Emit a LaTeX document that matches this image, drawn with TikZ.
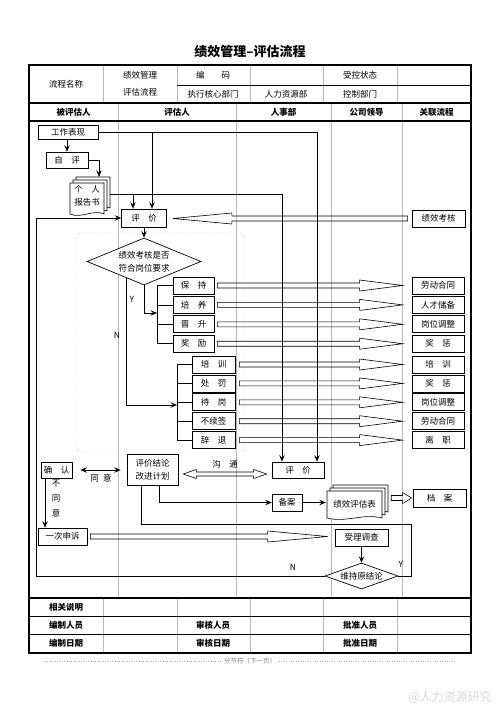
\documentclass[tikz,border=0pt]{standalone}
\usepackage{fontspec}
\setmainfont{Noto Sans CJK SC}
\usetikzlibrary{arrows.meta,shapes.geometric,calc}

\begin{document}
\begin{tikzpicture}[x=1pt,y=-1pt,>={Stealth[length=6.5pt,width=5.5pt,inset=2.5pt]},
		txt/.style={font=\fontsize{8.5}{10}\selectfont},
		head/.style={font=\fontsize{8.5}{10}\selectfont\bfseries},
		box/.style={txt,draw,fill=white,line width=0.7pt,inner sep=0pt,minimum height=17pt},
		dec/.style={draw,fill=white,line width=0.7pt,diamond,inner sep=0pt},
		link/.style={line width=0.7pt},
		grid/.style={gray!55,line width=0.6pt},
		rule/.style={line width=0.6pt},
		frame/.style={line width=1.1pt},
		harrow/.style={line width=0.6pt,to path={let \p1=(\tikztostart),\p2=(\tikztotarget),\n1={sign(\x2-\x1)} in
				({\x1},{\y1+2.5pt}) -- ({\x2-(\n1)*#1},{\y1+2.5pt}) -- ({\x2-(\n1)*#1},{\y1+5.5pt}) -- ({\x2},{\y1})
				-- ({\x2-(\n1)*#1},{\y1-5.5pt}) -- ({\x2-(\n1)*#1},{\y1-2.5pt}) -- ({\x1},{\y1-2.5pt}) -- cycle}},
		harrow/.default=43pt,
		dharrow/.style={line width=0.6pt,to path={let \p1=(\tikztostart),\p2=(\tikztotarget) in
				({\x1},{\y1}) -- ({\x1+13pt},{\y1+4.5pt}) -- ({\x1+13pt},{\y1+2pt}) -- ({\x2-13pt},{\y1+2pt})
				-- ({\x2-13pt},{\y1+4.5pt}) -- ({\x2},{\y1}) -- ({\x2-13pt},{\y1-4.5pt}) -- ({\x2-13pt},{\y1-2pt})
				-- ({\x1+13pt},{\y1-2pt}) -- ({\x1+13pt},{\y1-4.5pt}) -- cycle}},
		pics/docstack/.style n args={2}{code={
				\foreach \o in {6,3,0}
				\draw[fill=white,line width=0.6pt] (\o,-\o) -- ++(#1,0) -- ++(0,#2)
				.. controls +(-#1/3,-5) and +(#1/3,5) .. (\o,#2-\o) -- cycle;
		}}]
		\useasboundingbox (0,0) rectangle (500,707);
		
		% title and frame
		\node[font=\fontsize{13}{15}\selectfont\bfseries] (title) at (250,52) {绩效管理--评估流程};
		\foreach \x in {103,177,250,323,397} \draw[grid] (\x,65) -- (\x,103);
		\foreach \x in {118,236,331,402} \draw[grid] (\x,103) -- (\x,598);
		\foreach \x in {103,177,250,323,397} \draw[grid] (\x,598) -- (\x,653);
		\draw[rule] (177,85) -- (471,85);
		\draw[rule] (29,616) -- (471,616);
		\draw[rule] (29,634) -- (471,634);
		\draw[frame] (29,103) -- (471,103);
		\draw[frame] (29,121) -- (471,121);
		\draw[frame] (29,598) -- (471,598);
		\draw[frame] (29,65) rectangle (471,653);
		
		% header
		\node[txt] (hname) at (66,84) {流程名称};
		\node[txt,align=center,font=\fontsize{8.5}{17}\selectfont] (hproc) at (140,84) {绩效管理\\评估流程};
		\node[txt] (hcode) at (213,75) {编\qquad 码};
		\node[txt] (hstat) at (360,75) {受控状态};
		\node[txt] (hexec) at (213,94) {执行核心部门};
		\node[txt] (hdept) at (286,94) {人力资源部};
		\node[txt] (hctrl) at (360,94) {控制部门};
		\foreach \x/\t [count=\i] in {73.5/被评估人,177/评估人,283.5/人事部,366.5/公司领导,436.5/关联流程}
		\node[head] (lane\i) at (\x,112) {\t};
		
		% footer
		\node[head] (note) at (66,607) {相关说明};
		\foreach \t/\x/\y [count=\i] in {编制人员/66/625,审核人员/213/625,批准人员/360/625,编制日期/66/643.5,审核日期/213/643.5,批准日期/360/643.5}
		\node[head] (ft\i) at (\x,\y) {\t};
		\draw[gray!60,dotted] (45,661) -- (221,661);
		\draw[gray!60,dotted] (279,661) -- (455,661);
		\node[font=\fontsize{6.5}{8}\selectfont,text=gray] (brk) at (250,661) {分节符（下一页）};
		\node[font=\fontsize{12}{14}\selectfont,text=gray!30] (mark) at (450,697) {@人力资源研究};
		
		% check area
		\draw[gray!70,densely dotted,rounded corners=5pt] (76,233) rectangle (245,452);
		
		% nodes
		\node[box,minimum width=60pt,minimum height=14pt] (gz) at (68,132) {工作表现};
		\node[box,minimum width=42pt,minimum height=16pt] (zp) at (67,160) {自\quad 评};
		\pic at (70,183) {docstack={34}{31}};
		\node[txt,align=center,font=\fontsize{8.5}{13}\selectfont,minimum width=34pt,minimum height=26pt,inner sep=0pt] (rpt) at (87,196) {个\quad 人\\报告书};
		\node[box,minimum width=45pt,minimum height=18pt] (pj) at (144,218) {评\quad 价};
		\node[box,minimum width=53pt] (jk) at (438.5,218.5) {绩效考核};
		\node[dec,aspect=2.43,minimum width=114pt,minimum height=47pt,align=center,font=\fontsize{8.5}{13}\selectfont] (ck) at (144,261.5) {绩效考核是否\\符合岗位要求};
		
		\foreach \t [count=\i] in {保\quad 持,培\quad 养,晋\quad 升,奖\quad 励}
		\node[box,minimum width=41pt] (b\i) at (193.5,{266.1+19.4*\i}) {\t};
		\foreach \t [count=\i] in {培\quad 训,处\quad 罚,待\quad 岗,不续签,辞\quad 退}
		\node[box,minimum width=43pt] (c\i) at (213.5,{345.6+18.9*\i}) {\t};
		\foreach \t [count=\i] in {劳动合同,人才储备,岗位调整,奖\quad 惩}
		\node[box,minimum width=52pt] (r\i) at (438,{266.1+19.4*\i}) {\t};
		\foreach \t [count=\i from 5] in {培\quad 训,奖\quad 惩,岗位调整,劳动合同,离\quad 职}
		\node[box,minimum width=52pt] (r\i) at (438,{345.6+18.9*(\i-4)}) {\t};
		
		\node[box,minimum width=31pt,minimum height=16pt] (qr) at (56.5,470) {确\quad 认};
		\node[box,minimum width=51pt,minimum height=31pt,align=center,font=\fontsize{8.5}{13}\selectfont] (jl) at (152.5,469.5) {评价结论\\改进计划};
		\node[box,minimum width=52pt,minimum height=16pt] (pj2) at (298,470) {评\quad 价};
		\node[box,minimum width=30pt] (ba) at (287,502.5) {备案};
		\pic at (327,491) {docstack={55}{27}};
		\node[txt,minimum width=55pt,minimum height=27pt,inner sep=0pt] (pg) at (354.5,504.5) {绩效评估表};
		\node[box,minimum width=53pt,minimum height=18pt] (da) at (439.5,498) {档\quad 案};
		\node[box,minimum width=49pt] (ss) at (62.5,536.5) {一次申诉};
		\node[box,minimum width=53pt] (sl) at (361.5,537.5) {受理调查};
		\node[dec,aspect=2.8,minimum width=73pt,minimum height=26pt,txt] (keep) at (361.5,576) {维持原结论};
		
		% labels
		\node[txt] (ly1) at (132,299) {Y};
		\node[txt] (ln1) at (117,335) {N};
		\node[txt] (lok) at (101,478) {同\enspace 意};
		\node[txt,align=center,font=\fontsize{8.5}{15}\selectfont] (lno) at (56,499) {不\\同\\意};
		\node[txt] (ltalk) at (225,464) {沟\quad 通};
		\node[txt] (ln2) at (293,567) {N};
		\node[txt] (ly2) at (401,564) {Y};
		
		% junctions
		\coordinate (j1) at (152,132);
		\coordinate (j2) at (133,194);
		\coordinate (yb) at (157,313);
		\coordinate (nb) at (177,405);
		\coordinate (lx) at (36,576);
		\coordinate (qx) at (45,478);
		\coordinate (jy) at (141,524);
		\coordinate (ry) at (411,524);
		\coordinate (jb) at (159,502);
		
		% hollow arrows
		\foreach \i in {1,...,4} \draw[harrow] ($(b\i.east)+(3,0)$) to ($(r\i.west)+(-9,0)$);
		\foreach \i/\j in {1/5,2/6,3/7,4/8,5/9} \draw[harrow] ($(c\i.east)+(4,0)$) to ($(r\j.west)+(-9,0)$);
		\draw[harrow=59pt] ($(jk.west)+(-4,0)$) to ($(pj.east)+(6,0)$);
		\draw[harrow=60pt] ($(ss.east)+(3,0)$) to ($(sl.west)+(-7,0)$);
		\draw[harrow=9pt] ($(da.west -| pg.east)+(9,0)$) to ($(da.west)+(-1,0)$);
		\draw[dharrow] ($(jl.east)+(5,4.5)$) to ($(pj2.west)+(-5,4)$);
		
		% connectors
		\draw[link,->] (zp.north |- gz.south) -- (zp.north);
		\draw[link,->] (zp.east) -| ([xshift=12pt,yshift=6pt]rpt.north);
		\draw[link,->] (gz.east) -| ([xshift=19pt]pj2.north);
		\draw[link,->] (j1) -- (j1 |- pj.north);
		\draw[link,->] ([xshift=23pt,yshift=2pt]rpt.east) -| ([xshift=-16pt]pj2.north);
		\draw[link] ([xshift=6pt,yshift=2pt]rpt.east) -- ([xshift=23pt,yshift=2pt]rpt.east);
		\draw[link,->] (j2) -- (j2 |- pj.north);
		\draw[link,->] (pj) -- (ck);
		\draw[link,->] (ck.south) |- (yb);
		\draw[link] (b1.west -| yb) -- (b4.west -| yb);
		\foreach \i in {1,...,4} \draw[link] (b\i.west) -- (b\i.west -| yb);
		\draw[link,->] (ck.223) |- (nb);
		\draw[link] (c1.west -| nb) -- (c5.west -| nb);
		\foreach \i in {1,...,5} \draw[link] (c\i.west) -- (c\i.west -| nb);
		\draw[link,<->,shorten <=8pt,shorten >=6pt] (qr.east) -- (qr.east -| jl.west);
		\draw[link,->] (qx) -- (qx |- ss.north);
		\draw[link,->] (jb |- jl.south) |- (ba.west);
		\draw[link,->,shorten >=1pt] (ba.east) -- (ba.east -| pg.west);
		\draw[link] (jy |- jl.south) -- (jy) -- (ry) |- (keep.east);
		\draw[link,->] (sl) -- (keep);
		\draw[link,->] (keep.west) -- (lx) |- (pj.west);
		
\end{tikzpicture}
\end{document}
